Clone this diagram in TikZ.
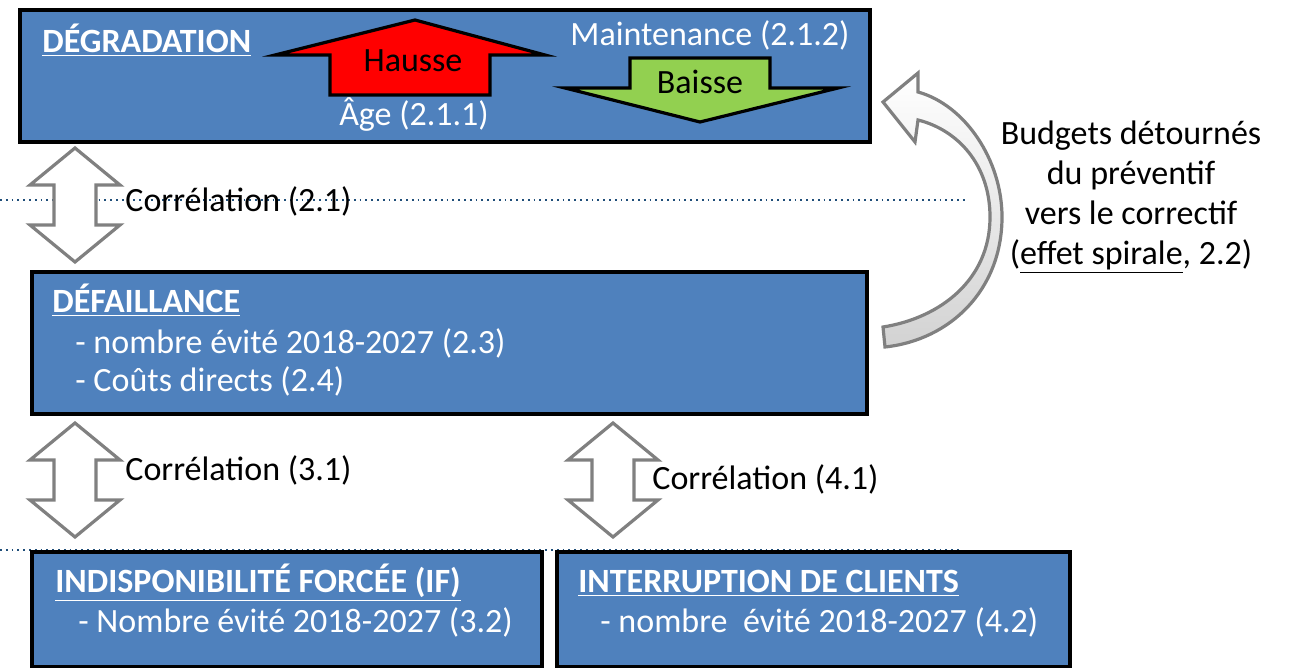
\documentclass[tikz,border=0pt]{standalone}
\usepackage{fontspec}
\setmainfont{Carlito}
\usetikzlibrary{calc}
\definecolor{boxblue}{RGB}{79,129,189}
\definecolor{upred}{RGB}{255,0,0}
\definecolor{downgreen}{RGB}{146,208,80}
\definecolor{dotblue}{RGB}{31,78,121}
\newcommand\corrarrow[2]{%
  \draw[corr] (#1) -- ++(45,37) -- ++(-24,0) -- ($(#2)+(21,-37)$) -- ++(24,0) -- (#2)
    -- ++(-45,-37) -- ++(24,0) -- ($(#1)+(-21,37)$) -- ++(-24,0) -- cycle;}

\begin{document}
\begin{tikzpicture}[x=0.5pt, y=-0.5pt,
  box/.style={draw=black, line width=2pt, fill=boxblue, inner sep=0pt, anchor=north west},
  head/.style={anchor=west, inner sep=0pt, text=white, font=\fontsize{17}{19}\selectfont\bfseries},
  item/.style={anchor=west, inner sep=0pt, text=white, font=\fontsize{17}{19}\selectfont},
  corr/.style={draw=gray, line width=1.6pt, fill=white, line join=miter},
  corrtxt/.style={anchor=west, inner sep=0pt, font=\fontsize{17}{19}\selectfont},
  blockarrow/.style={draw=black, line width=1.6pt, line join=miter}]
\useasboundingbox (0,0) rectangle (1289,668);

% dotted guides
\draw[dotblue, dotted, line width=0.9pt] (0,200) -- (968,200);
\draw[dotblue, dotted, line width=0.9pt] (0,550) -- (962,550);

% boxes
\node[box, minimum width=425pt, minimum height=66pt] (deg) at (18,8) {};
\node[box, minimum width=417.5pt, minimum height=71pt] (def) at (30,270) {};
\node[box, minimum width=255pt, minimum height=57.5pt] (indisp) at (30,550) {};
\node[box, minimum width=256.5pt, minimum height=57.5pt] (interr) at (555,550) {};

% degradation box
\node[head] (degt) at (42,40) {\underline{DÉGRADATION}};
\draw[blockarrow, fill=upred] (415,20) -- (545,55) -- (490,55) -- (490,95) -- (330,95) -- (330,55) -- (275,55) -- cycle;
\node[font=\fontsize{17}{19}\selectfont] (hausse) at (413,61) {Hausse};
\draw[blockarrow, fill=downgreen] (630,58) -- (770,58) -- (770,88) -- (838,88) -- (700,122) -- (565,88) -- (630,88) -- cycle;
\node[font=\fontsize{17}{19}\selectfont] (baisse) at (700,82) {Baisse};
\node[item, anchor=center] (maint) at (710,35) {Maintenance (2.1.2)};
\node[item, anchor=center] (age) at (414,115) {Âge (2.1.1)};

% defaillance box
\node[head] (deft) at (52,300) {\underline{DÉFAILLANCE}};
\node[item] (def1) at (75,343) {- nombre évité 2018-2027 (2.3)};
\node[item] (def2) at (75,381) {- Coûts directs (2.4)};

% lower boxes
\node[head] (indt) at (55,583) {\underline{INDISPONIBILITÉ FORCÉE (IF)}};
\node[item] (ind1) at (78,622) {- Nombre évité 2018-2027 (3.2)};
\node[head] (intt) at (578,583) {\underline{INTERRUPTION DE CLIENTS}};
\node[item] (int1) at (600,622) {- nombre\ \ évité 2018-2027 (4.2)};

% correlation arrows
\coordinate (c1t) at (75,148);  \coordinate (c1b) at (75,262);
\coordinate (c2t) at (75,423);  \coordinate (c2b) at (75,537);
\coordinate (c3t) at (613,423); \coordinate (c3b) at (613,537);
\corrarrow{c1t}{c1b}
\corrarrow{c2t}{c2b}
\corrarrow{c3t}{c3b}
\node[corrtxt] (corr1) at (125,201) {Corrélation (2.1)};
\node[corrtxt] (corr2) at (125,470) {Corrélation (3.1)};
\node[corrtxt] (corr3) at (652,479) {Corrélation (4.1)};

% spiral arrow back to degradation
\draw[draw=gray, line width=1.6pt, top color=white, bottom color=gray!35, line join=miter]
  (883,102) -- (918,73) -- (918,92) .. controls (965,105) and (1002,160) .. (1002,217)
  .. controls (1002,290) and (950,340) .. (885,347) -- (883,327)
  .. controls (940,318) and (990,280) .. (990,217)
  .. controls (990,165) and (958,130) .. (918,120) -- (915,142) -- cycle;
\node[align=center, font=\fontsize{17}{20}\selectfont] (budget) at (1131,197)
  {Budgets détournés\\du préventif\\vers le correctif\\(\underline{effet spirale}, 2.2)};
\end{tikzpicture}
\end{document}
